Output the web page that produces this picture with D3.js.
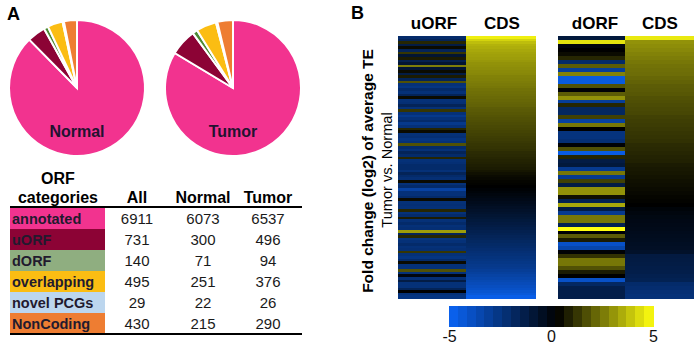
<!DOCTYPE html>
<html>
<head>
<meta charset="utf-8">
<script src="https://cdn.jsdelivr.net/npm/d3@7"></script>
<style>
body { margin: 0; background: #fff; }
text { font-family: Arial, "Liberation Sans", sans-serif; }
</style>
</head>
<body>
<div id="container"></div>
<script>
/* ORF categories, with counts per sample group */
const categories = ["annotated", "uORF", "dORF", "overlapping", "novel PCGs", "NonCoding"];
const cat_colors = ["#f2338f", "#8c0335", "#8fae80", "#fbbd13", "#bcd6ee", "#ee7d32"];
const pie_colors = ["#f2338f", "#8c0335", "#4d8a33", "#fbbd13", "#bcd6ee", "#ee7d32"];
const table_columns = ["All", "Normal", "Tumor"];
const count_all = [6911, 731, 140, 495, 29, 430];
const count_normal = [6073, 300, 71, 251, 22, 215];
const count_tumor = [6537, 496, 94, 376, 26, 290];

/* fold change (log2) of average TE, tumor vs normal, rows sorted by CDS */
const uorf_te = [
    -2, -1.6, 1, -1.2, 0.5, -1.6, 1.3, -0.8, 0.8, -1.4,
    -0.8, 2.6, -0.8, 0.5, -1.2, 0.8, -1.6, 1.8, -2.3, -2.5,
    -2, -2.3, -1.6, 0.5, -2.3, -2.2, -1.6, -2.3, 1.3, -2.3,
    -2.7, -2.3, -2, -2.7, -2.3, 1, 0.5, -2.3, -2.2, -2.5,
    -2.3, 1.8, -2, -2.3, -1.6, -2, 1, -2.3, -2.2, -2,
    -2, -2.3, -1.6, -2, -2.2, 0.5, -2.3, -2, -3.2, -2.3,
    -2.3, -2, 0.5, -2.3, -2.2, -2.3, 1, -2.3, -2, 0.8,
    -2.3, -2, -2.3, -2.2, 3.2, -1.6, 1, -2.5, -2.3, -2,
    -2.3, -2.2, 1.3, -2.3, -2.5, -2, 0.5, -2.3, -2.3, 1.8,
    -2.3, 0, -2.2, -1.2, -2.3, -2.3, -1.6, 0.3, -2.3, -2.5
];
const uorf_cds_te = [
    4.7, 4.2, 3.8, 3.6, 3.5, 3.4, 3.3, 3.25, 3.2, 3.1,
    3.0, 2.95, 2.9, 2.85, 2.8, 2.7, 2.65, 2.6, 2.55, 2.5,
    2.4, 2.35, 2.3, 2.25, 2.2, 2.15, 2.1, 2.0, 1.95, 1.9,
    1.85, 1.8, 1.75, 1.7, 1.65, 1.6, 1.55, 1.5, 1.45, 1.4,
    1.35, 1.3, 1.25, 1.2, 1.1, 1.05, 1.0, 0.95, 0.9, 0.85,
    0.8, 0.7, 0.6, 0.5, 0.45, 0.4, 0.35, 0.3, 0.2, 0.1,
    0.0, -0.1, -0.2, -0.3, -0.4, -0.5, -0.6, -0.7, -0.8, -0.9,
    -1.0, -1.1, -1.2, -1.3, -1.4, -1.5, -1.6, -1.7, -1.8, -1.9,
    -2.0, -2.1, -2.2, -2.3, -2.4, -2.5, -2.6, -2.7, -2.8, -2.95,
    -3.1, -3.25, -3.4, -3.55, -3.7, -3.85, -4.0, -4.2, -4.4, -4.7
];
const dorf_te = [
    -1, 4.5, 0, 0.3, 0.5, 1, -2, 2, -3, 2.7,
    -4.5, -4.5, 1.8, 0.2, 2, 3, -3, 1, -1.8, -1.8,
    1.5, -3.2, 2.5, 0.3, -2.4, -2.4, -2.2, 0.2, 1.8, -4.6,
    1, -1.2, -1, -2.8, 2.5, -2.8, 1.5, -1.2, 3, 3,
    0.6, -1.5, 3.4, -1.2, -2.8, 2.5, 2.5, -1.5, 5, 0.2,
    2, 0.8, -4, -3.4, 0.2, 1.2, 2.5, 2.5, 1.8, 0.8,
    0.3, -4, -1.8, -1.3, -1.3, -1.3
];
const dorf_cds_te = [
    4.6, 3.0, 2.9, 2.8, 2.7, 2.6, 2.5, 2.4, 2.35, 2.3,
    2.2, 2.1, 2.0, 1.95, 1.9, 1.8, 1.75, 1.7, 1.65, 1.6,
    1.5, 1.45, 1.4, 1.35, 1.3, 1.25, 1.2, 1.1, 1.05, 1.0,
    0.95, 0.9, 0.8, 0.75, 0.7, 0.65, 0.6, 0.55, 0.5, 0.45,
    0.4, 0.35, 0.3, 0.1, 0.0, -0.1, -0.15, -0.2, -0.25, -0.3,
    -0.35, -0.4, -0.45, -0.5, -0.6, -1.1, -1.15, -1.2, -1.25, -1.3,
    -1.4, -1.5, -2.0, -2.1, -2.2, -2.3
];
const colorbar_ticks = [-5, 0, 5];

const width = 700;
const height = 347;

const svg = d3.select("#container").append("svg")
    .attr("width", width)
    .attr("height", height);

// panel letters
svg.append("text").attr("x", 7).attr("y", 20)
    .attr("font-size", 18).attr("font-weight", "bold").text("A");
svg.append("text").attr("x", 351).attr("y", 19)
    .attr("font-size", 18).attr("font-weight", "bold").text("B");

/* ---- A: pies ---- */
const pie = d3.pie().sort(null).value(d => d);
const arc = d3.arc().innerRadius(0).outerRadius(68);

const pies = [
    {label: "Normal", values: count_normal, cx: 77},
    {label: "Tumor", values: count_tumor, cx: 233}
];

for (let p of pies) {
    const g = svg.append("g").attr("transform", `translate(${p.cx},88)`);
    g.selectAll("path")
        .data(pie(p.values))
        .join("path")
        .attr("d", arc)
        .attr("fill", (d, i) => pie_colors[i])
        .attr("stroke", "#fff")
        .attr("stroke-width", 2);
    g.append("text")
        .attr("y", 49)
        .attr("text-anchor", "middle")
        .attr("font-size", 16)
        .attr("font-weight", "bold")
        .attr("fill", "#231230")
        .text(p.label);
}

/* ---- A: table ---- */
const col_x = [137, 203, 268];
const row_y = d3.scaleBand().domain(d3.range(categories.length)).range([208, 334]);
const table = svg.append("g");

table.append("text").attr("x", 58).attr("y", 184).attr("text-anchor", "middle")
    .attr("font-size", 16).attr("font-weight", "bold").text("ORF");
table.append("text").attr("x", 58).attr("y", 203).attr("text-anchor", "middle")
    .attr("font-size", 16).attr("font-weight", "bold").text("categories");
table.selectAll("text.head")
    .data(table_columns)
    .join("text")
    .attr("class", "head")
    .attr("x", (d, i) => col_x[i])
    .attr("y", 203)
    .attr("text-anchor", "middle")
    .attr("font-size", 16)
    .attr("font-weight", "bold")
    .text(d => d);

table.selectAll("rect")
    .data(categories)
    .join("rect")
    .attr("x", 10)
    .attr("y", (d, i) => row_y(i))
    .attr("width", 95)
    .attr("height", row_y.bandwidth())
    .attr("fill", (d, i) => cat_colors[i]);

table.selectAll("text.cat")
    .data(categories)
    .join("text")
    .attr("class", "cat")
    .attr("x", 12)
    .attr("y", (d, i) => row_y(i) + 16)
    .attr("font-size", 14.5)
    .attr("font-weight", "bold")
    .attr("fill", "#221a2e")
    .text(d => d);

const counts = [count_all, count_normal, count_tumor];
counts.forEach((col, j) => {
    table.selectAll("text.c" + j)
        .data(col)
        .join("text")
        .attr("class", "c" + j)
        .attr("x", col_x[j])
        .attr("y", (d, i) => row_y(i) + 16)
        .attr("text-anchor", "middle")
        .attr("font-size", 15)
        .attr("fill", "#1a1a1a")
        .text(d => d);
});

table.append("line").attr("x1", 10).attr("x2", 302).attr("y1", 207).attr("y2", 207)
    .attr("stroke", "#000").attr("stroke-width", 2);
table.append("line").attr("x1", 10).attr("x2", 302).attr("y1", 334).attr("y2", 334)
    .attr("stroke", "#000").attr("stroke-width", 2);

/* ---- B: heatmaps ---- */
const te_color = d3.scaleLinear()
    .domain([-5, 0.3, 5])
    .range(["#0a64f5", "#000000", "#ffff10"])
    .clamp(true);

function heat_column(values, x0, x1) {
    const y = d3.scaleBand().domain(d3.range(values.length)).range([36, 298]);
    svg.append("g")
        .attr("shape-rendering", "crispEdges")
        .selectAll("rect")
        .data(values)
        .join("rect")
        .attr("x", x0)
        .attr("width", x1 - x0)
        .attr("y", (d, i) => y(i))
        .attr("height", y.bandwidth() + 0.5)
        .attr("fill", d => te_color(d));
}

heat_column(uorf_te, 398, 466);
heat_column(uorf_cds_te, 466, 536);
heat_column(dorf_te, 558, 625);
heat_column(dorf_cds_te, 625, 694);

const headers = [
    {t: "uORF", x: 434}, {t: "CDS", x: 502},
    {t: "dORF", x: 595}, {t: "CDS", x: 660}
];
svg.selectAll("text.hm")
    .data(headers)
    .join("text")
    .attr("class", "hm")
    .attr("x", d => d.x)
    .attr("y", 29)
    .attr("text-anchor", "middle")
    .attr("font-size", 17)
    .attr("font-weight", "bold")
    .text(d => d.t);

// y label
svg.append("text")
    .attr("transform", "translate(373,171) rotate(-90)")
    .attr("text-anchor", "middle")
    .attr("font-size", 15.5)
    .attr("font-weight", "bold")
    .text("Fold change (log2) of average TE");
svg.append("text")
    .attr("transform", "translate(392,170) rotate(-90)")
    .attr("text-anchor", "middle")
    .attr("font-size", 14.6)
    .text("Tumor vs. Normal");

/* ---- colour bar ---- */
const cb_x = d3.scaleLinear().domain([-5, 5]).range([449, 653]);
const n_steps = 23;
const step_w = (cb_x.range()[1] - cb_x.range()[0]) / n_steps;
svg.append("g")
    .attr("shape-rendering", "crispEdges")
    .selectAll("rect")
    .data(d3.range(n_steps))
    .join("rect")
    .attr("x", i => cb_x.range()[0] + i * step_w)
    .attr("width", step_w + 0.5)
    .attr("y", 306)
    .attr("height", 21)
    .attr("fill", i => te_color(cb_x.invert(cb_x.range()[0] + (i + 0.5) * step_w)));

const cb_axis = svg.append("g")
    .attr("transform", "translate(0,327)")
    .call(d3.axisBottom(cb_x).tickValues(colorbar_ticks).tickSize(0).tickPadding(4)
        .tickFormat(d => String(d)));
cb_axis.select(".domain").remove();
cb_axis.selectAll("text")
    .attr("font-size", 16)
    .attr("font-family", "Arial, 'Liberation Sans', sans-serif")
    .attr("fill", "#111");
</script>
</body>
</html>
